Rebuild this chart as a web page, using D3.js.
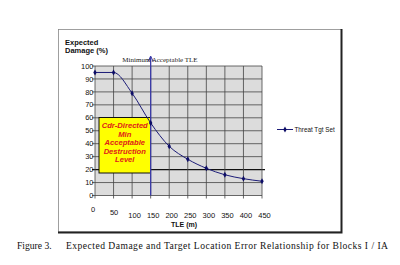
<!DOCTYPE html>
<html><head><meta charset="utf-8">
<script src="https://cdn.jsdelivr.net/npm/d3@7"></script>
<style>body{margin:0;background:#fff}svg{display:block}</style>
</head><body>
<svg id="c" width="400" height="265"></svg>
<script>
const tle = [0, 50, 100, 150, 200, 250, 300, 350, 400, 450];
const damage = [95, 95, 79, 56, 38, 28, 21, 16, 13, 11];
const yTicks = [0, 10, 20, 30, 40, 50, 60, 70, 80, 90, 100];
const xTicks = [0, 50, 100, 150, 200, 250, 300, 350, 400, 450];
const minTLE = 150;
const minDestruction = 20;
const boxLines = ["Cdr-Directed", "Min", "Acceptable", "Destruction", "Level"];
const seriesName = "Threat Tgt Set";
const captionLabel = "Figure 3.";
const captionText = "Expected Damage and Target Location Error Relationship for Blocks I / IA";

const svg = d3.select("#c");
const x = d3.scaleLinear().domain([0, 450]).range([95, 262]);
const y = d3.scaleLinear().domain([0, 100]).range([195.5, 66]);
const sans = "Arial, 'Liberation Sans', sans-serif";
const serif = "'Times New Roman', 'Liberation Serif', serif";

// outer frame
svg.append("rect").attr("x", 58.5).attr("y", 29.5).attr("width", 283).attr("height", 202.5)
  .attr("fill", "#fff").attr("stroke", "#888").attr("stroke-width", 0.8);
svg.append("path").attr("d", "M341.5,29 V232.5 H58")
  .attr("fill", "none").attr("stroke", "#222").attr("stroke-width", 2);

// plot background
svg.append("rect").attr("x", x(0)).attr("y", y(100)).attr("width", x(450) - x(0)).attr("height", y(0) - y(100))
  .attr("fill", "#dcdcdc");

// gridlines
const g = svg.append("g");
g.selectAll(".hg").data(yTicks).join("line")
  .attr("x1", d => x(0) - 3).attr("x2", d => d === minDestruction ? x(450) + 3 : x(450))
  .attr("y1", d => y(d)).attr("y2", d => y(d))
  .attr("stroke", d => d === minDestruction ? "#111" : "#444")
  .attr("stroke-width", d => d === minDestruction ? 1.2 : 0.8);
g.selectAll(".vg").data(xTicks).join("line")
  .attr("x1", d => x(d)).attr("x2", d => x(d))
  .attr("y1", y(100)).attr("y2", y(0) + 3)
  .attr("stroke", "#444").attr("stroke-width", 0.8);

// y labels
svg.selectAll(".yl").data(yTicks).join("text")
  .attr("x", x(0) - 1.5).attr("y", d => y(d) + 2.6)
  .attr("text-anchor", "end").attr("font-family", sans).attr("font-size", 7.5).attr("fill", "#111")
  .text(d => d);

// x labels (staggered like original)
svg.selectAll(".xl").data(xTicks).join("text")
  .attr("x", (d, i) => x(d) + (i === 0 ? -2 : i === 1 ? 0.5 : 2.5))
  .attr("y", (d, i) => i === 0 ? 211.5 : i === 1 ? 214.5 : 217.5)
  .attr("text-anchor", "middle").attr("font-family", sans).attr("font-size", 7.5).attr("fill", "#111")
  .text(d => d);

// axis titles
svg.append("text").attr("x", 65).attr("y", 44.5).attr("font-family", sans).attr("font-weight", "bold")
  .attr("font-size", 7.5).attr("fill", "#111").text("Expected");
svg.append("text").attr("x", 65).attr("y", 53).attr("font-family", sans).attr("font-weight", "bold")
  .attr("font-size", 7.5).attr("fill", "#111").text("Damage (%)");
svg.append("text").attr("x", 184).attr("y", 227).attr("text-anchor", "middle").attr("font-family", sans)
  .attr("font-weight", "bold").attr("font-size", 7).attr("fill", "#111").text("TLE (m)");

// yellow box
const bx = 99, by = 117.5, bw = 51.5, bh = 55.5;
svg.append("rect").attr("x", bx).attr("y", by).attr("width", bw).attr("height", bh)
  .attr("fill", "#ffff00").attr("stroke", "#111").attr("stroke-width", 1);
svg.selectAll(".bt").data(boxLines).join("text")
  .attr("x", bx + bw / 2).attr("y", (d, i) => by + 10.5 + i * 8.6)
  .attr("text-anchor", "middle").attr("font-family", sans).attr("font-weight", "bold")
  .attr("font-style", "italic").attr("font-size", 7.6).attr("fill", "#e0201a")
  .text(d => d);

// minimum acceptable TLE vertical line with arrow
svg.append("line").attr("x1", x(minTLE)).attr("x2", x(minTLE)).attr("y1", 57).attr("y2", y(0))
  .attr("stroke", "#3b3ba8").attr("stroke-width", 1.3);
svg.append("path").attr("d", `M${x(minTLE) - 2.5},${61.5} L${x(minTLE)},${56} L${x(minTLE) + 2.5},${61.5}`)
  .attr("fill", "none").attr("stroke", "#3b3ba8").attr("stroke-width", 1);
svg.append("text").attr("x", 160).attr("y", 61.5).attr("text-anchor", "middle").attr("font-family", serif)
  .attr("font-size", 7).attr("fill", "#222").text("Minimum Acceptable TLE");

// series
const pts = tle.map((t, i) => [t, damage[i]]);
svg.append("path").datum(pts)
  .attr("d", d3.line().x(d => x(d[0])).y(d => y(d[1])).curve(d3.curveMonotoneX))
  .attr("fill", "none").attr("stroke", "#1c1c78").attr("stroke-width", 1);
const diamond = d3.symbol().type(d3.symbolDiamond).size(10);
svg.selectAll(".pt").data(pts).join("path")
  .attr("transform", d => `translate(${x(d[0])},${y(d[1])})`)
  .attr("d", diamond).attr("fill", "#0d0d66");

// legend
svg.append("line").attr("x1", 277).attr("x2", 293).attr("y1", 129.5).attr("y2", 129.5)
  .attr("stroke", "#1c1c78").attr("stroke-width", 1);
svg.append("path").attr("transform", "translate(285,129.5)").attr("d", diamond).attr("fill", "#0d0d66");
svg.append("text").attr("x", 294.5).attr("y", 132).attr("font-family", sans).attr("font-size", 6.3)
  .attr("fill", "#111").text(seriesName);

// caption
svg.append("text").attr("x", 17).attr("y", 249).attr("font-family", serif).attr("font-size", 9.6)
  .attr("fill", "#111").text(captionLabel);
svg.append("text").attr("x", 66).attr("y", 249).attr("font-family", serif).attr("font-size", 9.6)
  .attr("fill", "#111").attr("textLength", 322).attr("lengthAdjust", "spacing").text(captionText);
</script>
</body></html>
